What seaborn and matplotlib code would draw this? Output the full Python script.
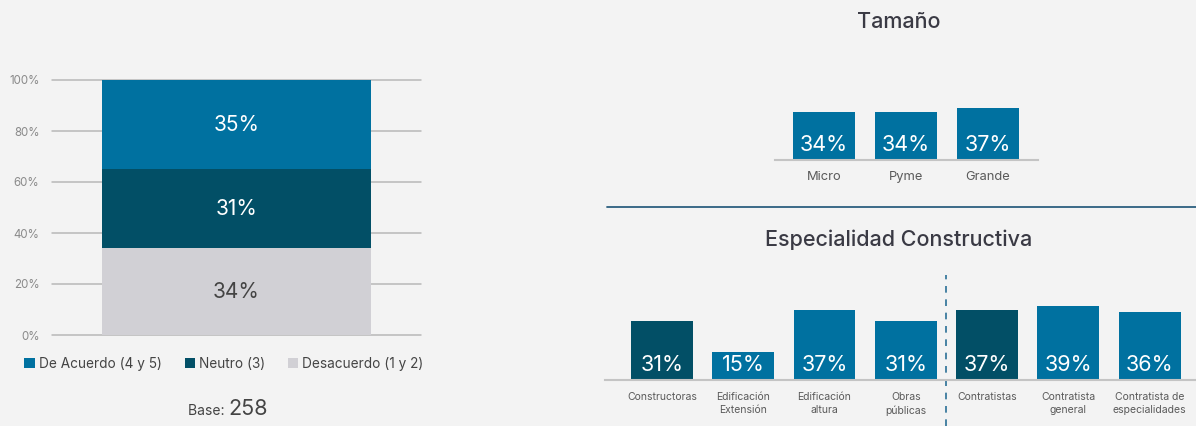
import matplotlib
matplotlib.use("Agg")
import matplotlib.pyplot as plt
from matplotlib.patches import Patch
import seaborn as sns
import pandas as pd

# ---- data ----
resp_labels = ["De Acuerdo (4 y 5)", "Neutro (3)", "Desacuerdo (1 y 2)"]
resp_values = [35, 31, 34]
base_n = 258

size_cats = ["Micro", "Pyme", "Grande"]
size_values = [34, 34, 37]

spec_cats = ["Constructoras", "Edificación\nExtensión", "Edificación\naltura",
             "Obras\npúblicas", "Contratistas", "Contratista\ngeneral",
             "Contratista de\nespecialidades"]
spec_values = [31, 15, 37, 31, 37, 39, 36]
spec_is_total = [True, False, False, False, True, False, False]

# ---- style ----
BG = "#f3f3f3"
BLUE = "#0071a0"
DARK = "#024f66"
GRAY = "#d1d0d5"
TXT = "#444444"

sns.set_theme(style="white")
plt.rcParams["font.family"] = ["Inter", "DejaVu Sans"]

W, H = 1196, 426
fig = plt.figure(figsize=(W / 100, H / 100), dpi=100, facecolor=BG)


def px_axes(x0, x1, ytop, ybot):
    """Axes placed by pixel box (top-left origin)."""
    return fig.add_axes([x0 / W, 1 - ybot / H, (x1 - x0) / W, (ybot - ytop) / H])


# ---- left: stacked composition ----
axL = px_axes(52, 421, 80, 335)
axL.set_facecolor(BG)
resp_colors = [BLUE, DARK, GRAY]
order = [2, 1, 0]  # bottom-up: Desacuerdo, Neutro, De Acuerdo
bottom = 0
for k in order:
    df = pd.DataFrame({"g": ["Total"], "v": [resp_values[k]]})
    sns.barplot(data=df, x="g", y="v", ax=axL, color=resp_colors[k],
                width=1.0, bottom=bottom, saturation=1, linewidth=0, zorder=3)
    axL.text(0, bottom + resp_values[k] / 2, f"{resp_values[k]}%",
             ha="center", va="center", fontsize=15,
             color=(TXT if k == 2 else "white"), zorder=4)
    bottom += resp_values[k]
axL.set_xlim(-0.685, 0.685)
axL.set_ylim(0, 100)
axL.set_yticks(range(0, 101, 20))
axL.set_yticklabels([f"{t}%" for t in range(0, 101, 20)], fontsize=8.3, color="#8a8a8a")
axL.yaxis.grid(True, color="#b8b8b8", linewidth=1.1, zorder=0)
for s in axL.spines.values():
    s.set_visible(False)
for t in axL.yaxis.get_gridlines():
    t.set_clip_on(False)
axL.tick_params(axis="y", length=0, pad=9)
axL.set_xticks([])
axL.set_xlabel("")
axL.set_ylabel("")

handles = [Patch(facecolor=c, edgecolor="none") for c in resp_colors]
fig.legend(handles, resp_labels, loc="center", ncol=3,
           bbox_to_anchor=(224 / W, 1 - 364 / H), frameon=False,
           fontsize=9.8, labelcolor=TXT, handlelength=0.75, handleheight=0.75,
           handletextpad=0.3, columnspacing=1.7)

fig.text(228 / W, 1 - 415 / H, "Base: ", ha="right", va="baseline",
         fontsize=10, color=TXT)
fig.text(228 / W, 1 - 415 / H, f"{base_n}", ha="left", va="baseline",
         fontsize=15.5, color=TXT)

# ---- right top: company size ----
axT = px_axes(775, 1038, 70, 160)
axT.set_facecolor(BG)
dfT = pd.DataFrame({"cat": size_cats, "v": size_values})
sns.barplot(data=dfT, x="cat", y="v", ax=axT, color=BLUE, width=0.756,
            saturation=1, linewidth=0)
axT.set_xlim(-0.6, 2.61)
axT.set_ylim(0, 90 / 1.41)
for i, v in enumerate(size_values):
    axT.annotate(f"{v}%", xy=(i, 0), xytext=(0, 3.5), textcoords="offset points",
                 ha="center", va="bottom", fontsize=15.5, color="white")
fig.text(899 / W, 1 - 22 / H, "Tamaño", ha="center", va="center",
         fontsize=15.5, fontweight="medium", color="#3a3a44")

# ---- right bottom: construction specialty ----
axB = px_axes(605, 1196, 275, 380)
axB.set_facecolor(BG)
dfB = pd.DataFrame({"cat": spec_cats, "v": spec_values})
spec_palette = [DARK if t else BLUE for t in spec_is_total]
sns.barplot(data=dfB, x="cat", y="v", hue="cat", palette=spec_palette,
            legend=False, ax=axB, width=0.76, saturation=1, linewidth=0)
axB.set_xlim(-0.70, 6.57)
axB.set_ylim(0, 105 / 1.89)
for i, v in enumerate(spec_values):
    axB.annotate(f"{v}%", xy=(i, 0), xytext=(0, 3.5), textcoords="offset points",
                 ha="center", va="bottom", fontsize=15.5, color="white")
axB.axvline(3.5, ymin=-46 / 105, ymax=1.0, color="#2a6f96", linewidth=1.2,
            linestyle=(0, (4, 4)), clip_on=False)
fig.text(899 / W, 1 - 240 / H, "Especialidad Constructiva", ha="center",
         va="center", fontsize=15.5, fontweight="medium", color="#3a3a44")

for ax, fs, pad in ((axT, 9.3, 8), (axB, 7.5, 9)):
    for name, s in ax.spines.items():
        s.set_visible(name == "bottom")
    ax.spines["bottom"].set_color("#c4c4c4")
    ax.spines["bottom"].set_linewidth(1.5)
    ax.set_yticks([])
    ax.set_xlabel("")
    ax.set_ylabel("")
    ax.tick_params(axis="x", length=0, pad=pad, labelsize=fs, labelcolor="#5a5a5a")
for lab in axB.get_xticklabels():
    lab.set_linespacing(1.3)

# separator between the two right panels
fig.add_artist(plt.Line2D([607 / W, 1.0], [1 - 207 / H] * 2,
                          color="#2c5f7f", linewidth=1.3))

fig.savefig("out.png", dpi=100, facecolor=BG)
